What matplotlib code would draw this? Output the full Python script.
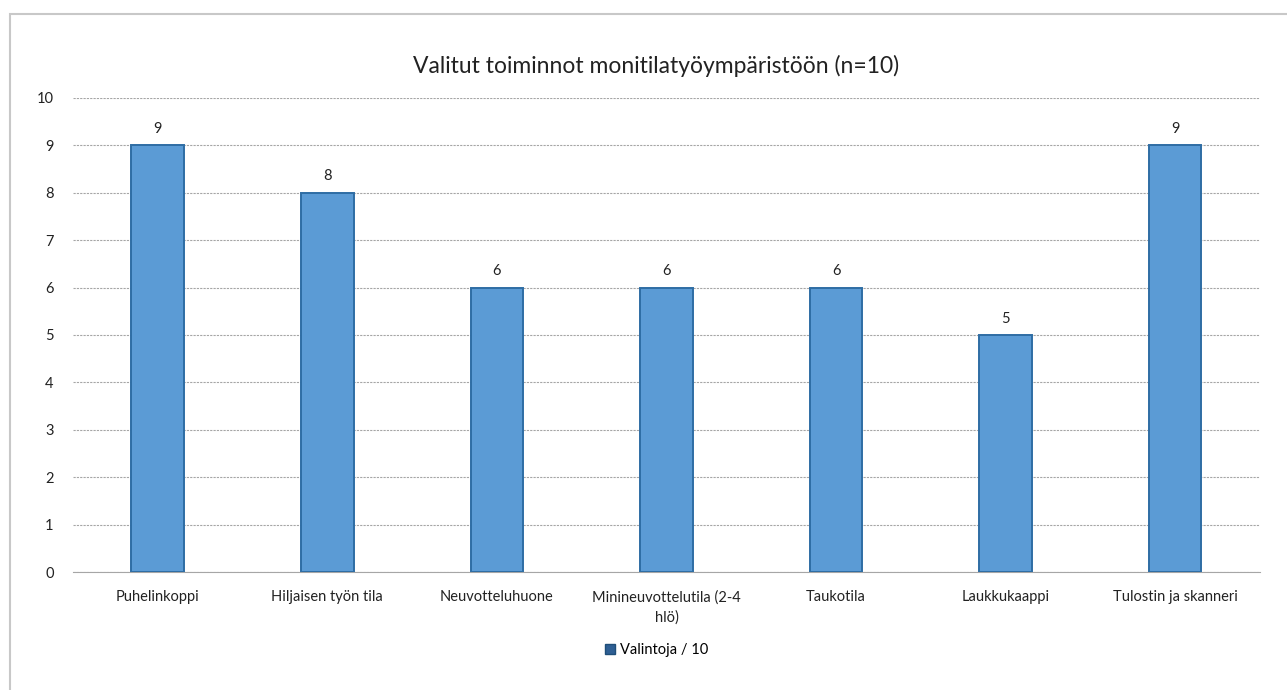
import matplotlib
matplotlib.use("Agg")
import matplotlib.pyplot as plt
from matplotlib.patches import Rectangle, Patch

categories = ["Puhelinkoppi", "Hiljaisen työn tila", "Neuvotteluhuone",
              "Minineuvottelutila (2-4\nhlö)", "Taukotila", "Laukkukaappi",
              "Tulostin ja skanneri"]
values = [9, 8, 6, 6, 6, 5, 9]
series_name = "Valintoja / 10"
title = "Valitut toiminnot monitilatyöympäristöön (n=10)"

plt.rcParams['font.family'] = ['Lato', 'DejaVu Sans']

fig = plt.figure(figsize=(12.87, 6.9), dpi=100)
ax = fig.add_axes([0.0567, 0.171, 0.9223, 0.687])

# chart frame (light gray border top and left)
fig.patches.append(Rectangle((10 / 1287, -0.1), 1.2, 1 - 14 / 690 + 0.1,
                             transform=fig.transFigure, fill=False,
                             edgecolor='#c8c8c8', linewidth=1.5))

x = list(range(len(categories)))
ax.bar(x, values, width=0.31, color='#5b9bd5', edgecolor='#2e6da4',
       linewidth=1.4, label=series_name, zorder=3)
for xi, v in zip(x, values):
    ax.text(xi, v + 0.2, str(v), ha='center', va='bottom', fontsize=10.5,
            color='#222222')

ax.set_xlim(-0.5, len(categories) - 0.5)
ax.set_ylim(0, 10)
ax.set_yticks(range(0, 11))
ax.set_xticks(x)
ax.set_xticklabels(categories, fontsize=10.5, color='#222222', linespacing=1.5)
ax.tick_params(axis='y', labelsize=10.5, colors='#222222', length=0, pad=14)
ax.tick_params(axis='x', length=0, pad=13)
ax.grid(axis='y', color='#a6a6a6', linestyle=(0, (2, 1)), linewidth=0.8, zorder=0)
for s in ['top', 'right', 'left']:
    ax.spines[s].set_visible(False)
ax.spines['bottom'].set_color('#a6a6a6')
ax.spines['bottom'].set_linestyle((0, (2, 1)))

fig.text(0.51, 0.905, title, ha='center', va='center', fontsize=16.5,
         color='#222222')

handle = Patch(facecolor='#2e5f94', edgecolor='#1f4e79')
fig.legend([handle], [series_name], loc='center', bbox_to_anchor=(0.51, 0.058),
           frameon=False, fontsize=10.5, handlelength=0.7, handleheight=0.7,
           handletextpad=0.3)

fig.savefig("out.png", dpi=100, facecolor='white')
